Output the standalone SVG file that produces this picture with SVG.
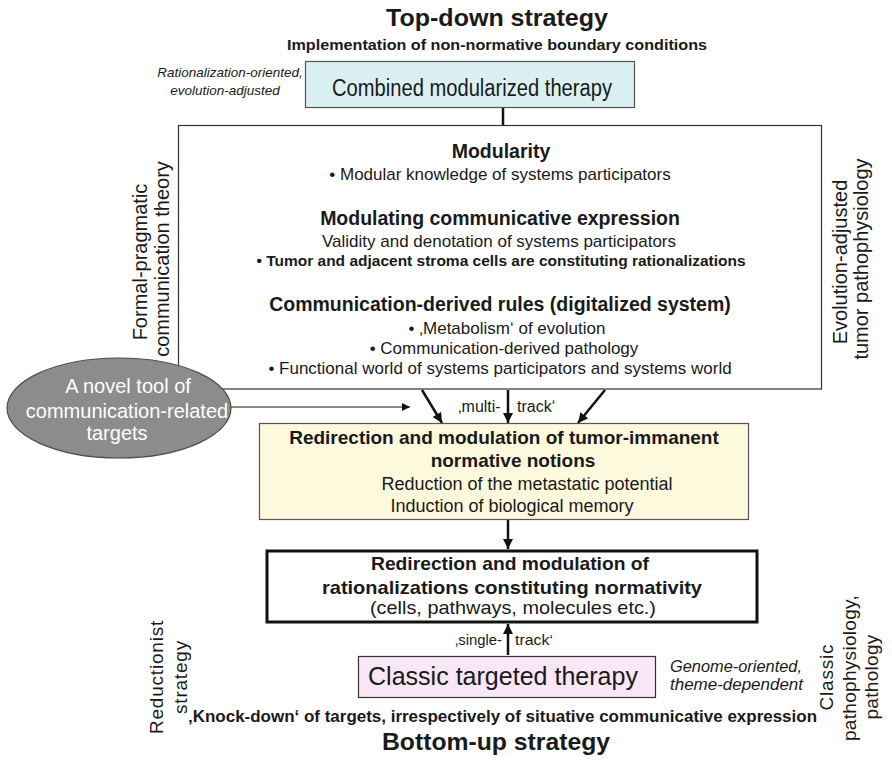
<svg xmlns="http://www.w3.org/2000/svg" width="892" height="761" viewBox="0 0 892 761">
<style>
text{font-family:"Liberation Sans",Arial,sans-serif;fill:#1a1a1a}
.b{font-weight:bold}
.i{font-style:italic}
.c{text-anchor:middle}
.h{font-size:19.5px;font-weight:bold}
.r{font-size:17px}
.side{font-size:20px}
.conn{stroke:#111;fill:none}
</style>
<defs>
<marker id="ah" viewBox="0 0 10 10" refX="10" refY="5" markerWidth="10" markerHeight="10" markerUnits="userSpaceOnUse" orient="auto"><path d="M0,0 L10,5 L0,10 z" fill="#111"/></marker>
<marker id="ahs" viewBox="0 0 10 10" refX="10" refY="5" markerWidth="9" markerHeight="8" markerUnits="userSpaceOnUse" orient="auto"><path d="M0,0 L10,5 L0,10 z" fill="#111"/></marker>
</defs>
<rect width="892" height="761" fill="#fff"/>
<g id="titles">
<text class="b c" x="497" y="26" font-size="24" textLength="222" lengthAdjust="spacingAndGlyphs">Top-down strategy</text>
<text class="b c" x="497" y="50" font-size="15" textLength="420" lengthAdjust="spacingAndGlyphs">Implementation of non-normative boundary conditions</text>
<text class="i c" x="230" y="77" font-size="13.5">Rationalization-oriented,</text>
<text class="i c" x="225" y="95" font-size="13.5">evolution-adjusted</text>
</g>
<g id="combined">
<rect x="305.5" y="61.5" width="329" height="46" fill="#dbf0f3" stroke="#555" stroke-width="1.2"/>
<text class="c" x="472" y="96" font-size="23" textLength="280" lengthAdjust="spacingAndGlyphs">Combined modularized therapy</text>
</g>
<g id="connectors">
<line class="conn" x1="503" y1="108" x2="503" y2="125" stroke-width="2.5"/>
<line class="conn" x1="231" y1="407" x2="410" y2="407" stroke-width="1" marker-end="url(#ahs)"/>
<line class="conn" x1="422" y1="390" x2="442" y2="423" stroke-width="2.5" marker-end="url(#ah)"/>
<line class="conn" x1="508" y1="390" x2="508" y2="423" stroke-width="2.5" marker-end="url(#ah)"/>
<line class="conn" x1="605" y1="390" x2="578" y2="423" stroke-width="2.5" marker-end="url(#ah)"/>
<line class="conn" x1="508" y1="520" x2="508" y2="549" stroke-width="2.5" marker-end="url(#ah)"/>
<line class="conn" x1="508" y1="655" x2="508" y2="624" stroke-width="2.5" marker-end="url(#ah)"/>
</g>
<g id="framework">
<rect x="178.5" y="125.5" width="643" height="263.5" fill="#fff" stroke="#333" stroke-width="1.2"/>
<text class="h c" x="501" y="158">Modularity</text>
<text class="r c" x="500" y="180">• Modular knowledge of  systems participators</text>
<text class="h c" x="500" y="225">Modulating communicative expression</text>
<text class="r c" x="499" y="247">Validity and denotation of systems participators</text>
<text class="b c" x="501" y="266" font-size="15.5">• Tumor and adjacent stroma cells are constituting rationalizations</text>
<text class="h c" x="500" y="311">Communication-derived rules (digitalized system)</text>
<text class="r c" x="507" y="334">• ‚Metabolism‘ of evolution</text>
<text class="r c" x="504" y="354">• Communication-derived pathology</text>
<text class="r c" x="500" y="374">• Functional world of systems participators and systems world</text>
</g>
<g id="side-labels">
<text class="side c" transform="translate(147 262) rotate(-90)">Formal-pragmatic</text>
<text class="side c" transform="translate(169 259) rotate(-90)">communication theory</text>
<text class="side c" transform="translate(847 262) rotate(-90)">Evolution-adjusted</text>
<text class="side c" transform="translate(868 259) rotate(-90)">tumor pathophysiology</text>
<text class="c" font-size="19" letter-spacing="0.8" transform="translate(163 677) rotate(-90)">Reductionist</text>
<text class="c" font-size="19" letter-spacing="0.8" transform="translate(187 677) rotate(-90)">strategy</text>
<text class="c" font-size="19" letter-spacing="0.8" transform="translate(833 677) rotate(-90)">Classic</text>
<text class="c" font-size="19" letter-spacing="0.3" transform="translate(856 668) rotate(-90)">pathophysiology,</text>
<text class="c" font-size="19" letter-spacing="0.3" transform="translate(878 677) rotate(-90)">pathology</text>
</g>
<g id="novel-tool">
<ellipse cx="119" cy="408" rx="112" ry="50" fill="#8c8c8c" stroke="#4d4d4d" stroke-width="1.2"/>
<text class="c" x="128" y="393" font-size="20" style="fill:#fff">A novel tool of</text>
<text class="c" x="127" y="418" font-size="20" style="fill:#fff">communication-related</text>
<text class="c" x="117" y="440" font-size="20" style="fill:#fff">targets</text>
</g>
<g id="multi-label">
<text x="458" y="412" font-size="16">‚multi-</text>
<text x="517" y="412" font-size="16">track‘</text>
</g>
<g id="normative-notions">
<rect x="259.5" y="423.5" width="489" height="96" fill="#fdf9dc" stroke="#555" stroke-width="1.2"/>
<text class="b c" x="504" y="444" font-size="19">Redirection and modulation of tumor-immanent</text>
<text class="b c" x="513" y="467" font-size="19">normative notions</text>
<text class="c" x="527" y="490" font-size="18">Reduction of the metastatic potential</text>
<text class="c" x="512" y="512" font-size="18">Induction of biological memory</text>
</g>
<g id="rationalizations">
<rect x="267" y="551" width="490" height="71" fill="#fff" stroke="#111" stroke-width="3"/>
<text class="b c" x="510" y="570" font-size="19" textLength="278" lengthAdjust="spacingAndGlyphs">Redirection and modulation of</text>
<text class="b c" x="512" y="594" font-size="19" textLength="380" lengthAdjust="spacingAndGlyphs">rationalizations constituting normativity</text>
<text class="c" x="513" y="614" font-size="19" textLength="286" lengthAdjust="spacingAndGlyphs">(cells, pathways, molecules etc.)</text>
</g>
<g id="single-label">
<text x="455" y="645" font-size="15" textLength="47" lengthAdjust="spacingAndGlyphs">‚single-</text>
<text x="515" y="645" font-size="15" textLength="38" lengthAdjust="spacingAndGlyphs">track‘</text>
</g>
<g id="classic">
<rect x="358.5" y="656.5" width="297" height="41" fill="#f9e6f6" stroke="#333" stroke-width="1.2"/>
<text class="c" x="503" y="685" font-size="25" textLength="270" lengthAdjust="spacingAndGlyphs">Classic targeted therapy</text>
<text class="i" x="670" y="672" font-size="16" textLength="132" lengthAdjust="spacingAndGlyphs">Genome-oriented,</text>
<text class="i" x="670" y="690" font-size="16" textLength="133" lengthAdjust="spacingAndGlyphs">theme-dependent</text>
</g>
<g id="bottom">
<text class="b" x="188" y="722" font-size="16" textLength="629" lengthAdjust="spacingAndGlyphs">‚Knock-down‘ of targets, irrespectively of situative communicative expression</text>
<text class="b c" x="496" y="750" font-size="24" textLength="228" lengthAdjust="spacingAndGlyphs">Bottom-up strategy</text>
</g>
</svg>
